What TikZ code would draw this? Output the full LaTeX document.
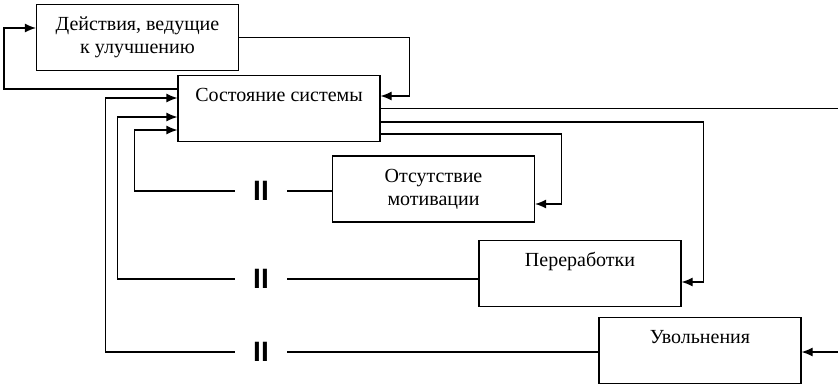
\documentclass[tikz,border=0pt]{standalone}
\usepackage{fontspec}
\setmainfont{Liberation Serif}
\setsansfont{Liberation Sans}
\usetikzlibrary{arrows,arrows.meta,calc,positioning}
\tikzset{
    block/.style = {draw, rectangle, line width=1.2pt,
        minimum height=66pt, minimum width=202pt, align=center,
        font=\fontsize{20}{23}\selectfont},
    topblock/.style = {block, inner ysep=4pt, text height=22pt, text depth=36pt},
    delay/.style = {minimum width=51pt, inner sep=0pt,
        font=\sffamily\bfseries\fontsize{28}{28}\selectfont},
    out/.style = {coordinate}
}
\begin{document}
\begin{tikzpicture}[x=1pt, y=-1pt, >={Latex[length=11pt,width=9pt]}, line width=1.2pt]
        \useasboundingbox (0,0) rectangle (838,386);
        \node [block] (act) at (137.5,37.5) {Действия, ведущие\\к улучшению};
        \node [topblock] (state) at (279,108.5) {Состояние системы};
        \node [block] (motiv) at (433.5,189) {Отсутствие\\мотивации};
        \node [topblock] (over) at (580,273.5) {Переработки};
        \node [topblock] (quit) at (700,350.5) {Увольнения};
        % delays
        \node [delay] (d1) at (261,191) {II};
        \node [delay] (d2) at (261,279) {II};
        \node [delay] (d3) at (261,352) {II};
        \coordinate (exitr) at (838,109);
        \coordinate (entr) at (838,352);
        % loop with improvement actions
        \draw [->] (act.east) -| ([xshift=29pt,yshift=12.5pt]state.east) -- ([yshift=12.5pt]state.east);
        \draw [->] ([yshift=19.5pt]state.west) -| ([xshift=-32pt,yshift=9.5pt]act.west) -- ([yshift=9.5pt]act.west);
        % outputs of the state
        \draw (state.east) -- (state.east -| exitr);
        \draw [->] ([yshift=-13.5pt]state.east) -| ([xshift=22pt,yshift=-8.5pt]over.east) -- ([yshift=-8.5pt]over.east);
        \draw [->] ([yshift=-25.5pt]state.east) -| ([xshift=26pt,yshift=-15pt]motiv.east) -- ([yshift=-15pt]motiv.east);
        \draw [->] (entr) -- (entr -| quit.east);
        % delayed feedback
        \draw ([yshift=-2pt]motiv.west) -- (d1);
        \draw [->] (d1) -| ([xshift=-43pt,yshift=-21.5pt]state.west) -- ([yshift=-21.5pt]state.west);
        \draw ([yshift=-5.5pt]over.west) -- (d2);
        \draw [->] (d2) -| ([xshift=-60pt,yshift=-8.5pt]state.west) -- ([yshift=-8.5pt]state.west);
        \draw ([yshift=-1.5pt]quit.west) -- (d3);
        \draw [->] (d3) -| ([xshift=-72pt,yshift=10.5pt]state.west) -- ([yshift=10.5pt]state.west);
\end{tikzpicture}
\end{document}
